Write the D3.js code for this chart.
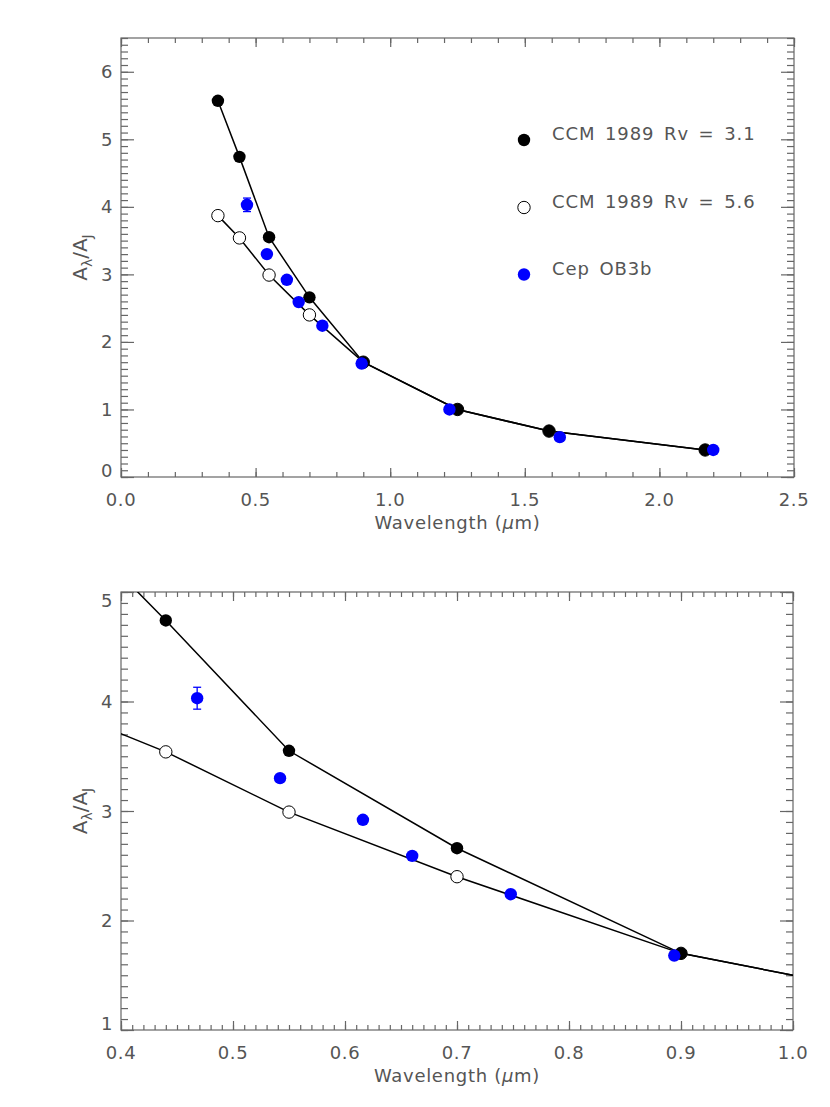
<!DOCTYPE html>
<meta charset="utf-8">
<title>Extinction curve</title>
<style>
body { margin: 0; background: #fff; }
svg { display: block; }
.tick-label, .title, .legend text {
  font-family: "DejaVu Sans", sans-serif;
  font-weight: normal;
  font-size: 18px;
  fill: #555;
}
.tick-label { letter-spacing: 0.6px; }
.legend text { letter-spacing: 0.9px; word-spacing: 3px; }
.frame line, .frame path { stroke: #666; stroke-width: 1.2; }
.curve { fill: none; stroke: #000; stroke-width: 1.5; }
</style>
<svg width="830" height="1107"></svg>
<script src="https://d3js.org/d3.v7.min.js"></script>
<script>

// CCM 1989 model points (standard bands) and Cep OB3b measurements
var bandWl = [0.36, 0.44, 0.55, 0.70, 0.90, 1.25, 1.59, 2.17];
var ccm31  = [5.57, 4.74, 3.55, 2.66, 1.70, 1.00, 0.68, 0.40];
var ccm56  = [3.87, 3.54, 2.99, 2.40, 1.70, 1.00, 0.68, 0.40];

var cepWl  = [0.468, 0.542, 0.616, 0.660, 0.748, 0.894, 1.22, 1.63, 2.20];
var cepA   = [4.03, 3.30, 2.92, 2.59, 2.24, 1.68, 1.00, 0.59, 0.40];
var cepErr = [0.10, 0.03, 0.02, 0.01, 0.01, 0.01, 0.01, 0.01, 0.01];

var legendLabels = ["CCM 1989 Rv = 3.1", "CCM 1989 Rv = 5.6", "Cep OB3b"];

var panels = [
  { left: 121, right: 794, top: 38, bottom: 477,
    xDomain: [0, 2.5], xMajor: 0.5, xMinor: 0.1, xFmt: ".1f",
    yDomain: [0, 6.5], yMajor: 1, yMinor: 0.1, legend: true },
  { left: 121, right: 793, top: 592, bottom: 1030,
    xDomain: [0.4, 1.0], xMajor: 0.1, xMinor: 0.01, xFmt: ".1f",
    yDomain: [1, 5], yMajor: 1, yMinor: 0.1, legend: false }
];

var svg = d3.select("svg");
var R = 6.2;

function steps(lo, hi, st) {
  var out = [];
  var n = Math.round((hi - lo) / st);
  for (var i = 0; i <= n; i++) out.push(+(lo + i * st).toFixed(4));
  return out;
}

panels.forEach(function(p, pi) {
  var x = d3.scaleLinear().domain(p.xDomain).range([p.left, p.right]);
  var y = d3.scaleLinear().domain(p.yDomain).range([p.bottom, p.top]);
  var g = svg.append("g");

  var xMaj = steps(p.xDomain[0], p.xDomain[1], p.xMajor);
  var xMin = steps(p.xDomain[0], p.xDomain[1], p.xMinor);
  var yMaj = steps(Math.ceil(p.yDomain[0]), Math.floor(p.yDomain[1]), p.yMajor);
  var yMin = steps(p.yDomain[0], p.yDomain[1], p.yMinor);

  var frame = g.append("g").attr("class", "frame");
  // minor ticks, all four sides, pointing inward
  frame.append("g").attr("transform", "translate(0," + p.bottom + ")")
    .call(d3.axisBottom(x).tickValues(xMin).tickSize(-5).tickFormat(""));
  frame.append("g").attr("transform", "translate(0," + p.top + ")")
    .call(d3.axisTop(x).tickValues(xMin).tickSize(-5).tickFormat(""));
  frame.append("g").attr("transform", "translate(" + p.left + ",0)")
    .call(d3.axisLeft(y).tickValues(yMin).tickSize(-7).tickFormat(""));
  frame.append("g").attr("transform", "translate(" + p.right + ",0)")
    .call(d3.axisRight(y).tickValues(yMin).tickSize(-7).tickFormat(""));
  // major ticks
  frame.append("g").attr("transform", "translate(0," + p.bottom + ")")
    .call(d3.axisBottom(x).tickValues(xMaj).tickSize(-9).tickFormat(""));
  frame.append("g").attr("transform", "translate(0," + p.top + ")")
    .call(d3.axisTop(x).tickValues(xMaj).tickSize(-9).tickFormat(""));
  frame.append("g").attr("transform", "translate(" + p.left + ",0)")
    .call(d3.axisLeft(y).tickValues(yMaj).tickSize(-13).tickFormat(""));
  frame.append("g").attr("transform", "translate(" + p.right + ",0)")
    .call(d3.axisRight(y).tickValues(yMaj).tickSize(-13).tickFormat(""));
  frame.selectAll(".domain").attr("d", null);
  frame.append("rect")
    .attr("x", p.left).attr("y", p.top)
    .attr("width", p.right - p.left).attr("height", p.bottom - p.top)
    .attr("fill", "none").attr("stroke", "#666").attr("stroke-width", 1.2);

  // tick labels (end labels kept inside the frame, IDL style)
  g.selectAll(".xl").data(xMaj).enter().append("text")
    .attr("class", "tick-label")
    .attr("x", function(d) { return x(d); })
    .attr("y", p.bottom + 29)
    .attr("text-anchor", "middle")
    .text(d3.format(p.xFmt));
  g.selectAll(".yl").data(yMaj).enter().append("text")
    .attr("class", "tick-label")
    .attr("x", p.left - 8)
    .attr("y", function(d) {
      return Math.max(p.top + 8, Math.min(p.bottom - 7, y(d))) + 6.5;
    })
    .attr("text-anchor", "end")
    .text(d3.format("d"));

  // axis titles
  var xt = g.append("text").attr("class", "title")
    .attr("x", (p.left + p.right) / 2)
    .attr("y", p.bottom + 52)
    .attr("text-anchor", "middle")
    .style("letter-spacing", "0.7px");
  xt.append("tspan").text("Wavelength (");
  xt.append("tspan").style("font-style", "italic").text("μ");
  xt.append("tspan").text("m)");

  var yt = g.append("text").attr("class", "title")
    .attr("transform", "translate(" + 87 + "," + ((p.top + p.bottom) / 2) + ") rotate(-90)")
    .attr("text-anchor", "middle")
    .style("font-size", "20px");
  yt.append("tspan").text("A");
  yt.append("tspan").attr("dy", 5).style("font-size", "14px").text("λ");
  yt.append("tspan").attr("dy", -5).text("/A");
  yt.append("tspan").attr("dy", 5).style("font-size", "14px").text("J");

  // curves
  var cid = "clip" + pi;
  g.append("clipPath").attr("id", cid).append("rect")
    .attr("x", p.left).attr("y", p.top)
    .attr("width", p.right - p.left).attr("height", p.bottom - p.top);
  var plot = g.append("g").attr("clip-path", "url(#" + cid + ")");

  var line = d3.line().x(function(d) { return x(d[0]); }).y(function(d) { return y(d[1]); });
  var pts56 = d3.zip(bandWl, ccm56);
  var pts31 = d3.zip(bandWl, ccm31);
  var cep = d3.zip(cepWl, cepA, cepErr);

  plot.append("path").attr("class", "curve").attr("d", line(pts56));
  plot.append("path").attr("class", "curve").attr("d", line(pts31));

  plot.selectAll(".o56").data(pts56).enter().append("circle")
    .attr("cx", function(d) { return x(d[0]); })
    .attr("cy", function(d) { return y(d[1]); })
    .attr("r", R).attr("fill", "#fff").attr("stroke", "#000").attr("stroke-width", 1);
  plot.selectAll(".o31").data(pts31).enter().append("circle")
    .attr("cx", function(d) { return x(d[0]); })
    .attr("cy", function(d) { return y(d[1]); })
    .attr("r", R).attr("fill", "#000");

  // error bars
  var eb = plot.selectAll(".eb").data(cep).enter().append("g")
    .attr("stroke", "#0000ff").attr("stroke-width", 1.3);
  eb.append("line")
    .attr("x1", function(d) { return x(d[0]); }).attr("x2", function(d) { return x(d[0]); })
    .attr("y1", function(d) { return y(d[1] - d[2]); }).attr("y2", function(d) { return y(d[1] + d[2]); });
  eb.filter(function(d) { return Math.abs(y(d[1] + d[2]) - y(d[1])) > R; })
    .each(function(d) {
      var s = d3.select(this);
      [d[1] - d[2], d[1] + d[2]].forEach(function(v) {
        s.append("line").attr("x1", x(d[0]) - 4).attr("x2", x(d[0]) + 4)
          .attr("y1", y(v)).attr("y2", y(v));
      });
    });
  plot.selectAll(".cep").data(cep).enter().append("circle")
    .attr("cx", function(d) { return x(d[0]); })
    .attr("cy", function(d) { return y(d[1]); })
    .attr("r", R).attr("fill", "#0000ff");

  // legend
  if (p.legend) {
    var lg = g.append("g").attr("class", "legend");
    var ly = [140, 207.5, 274.5];
    var styles = [
      { fill: "#000", stroke: "none" },
      { fill: "#fff", stroke: "#000" },
      { fill: "#0000ff", stroke: "none" }
    ];
    legendLabels.forEach(function(lab, i) {
      lg.append("circle").attr("cx", 524).attr("cy", ly[i]).attr("r", R)
        .attr("fill", styles[i].fill).attr("stroke", styles[i].stroke);
      lg.append("text").attr("x", 552).attr("y", ly[i]).text(lab);
    });
  }
});
</script>
